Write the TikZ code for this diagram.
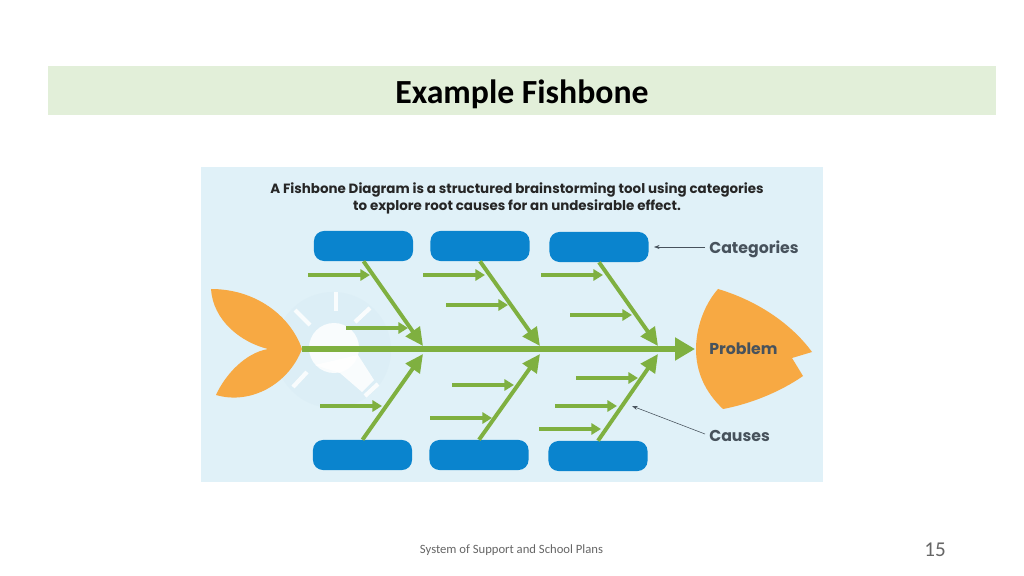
\documentclass[tikz,border=0pt]{standalone}
\usepackage{fontspec}
\setmainfont{Carlito}
\newfontfamily\posterfont{Poppins}
\usetikzlibrary{arrows.meta}
\definecolor{bannergreen}{HTML}{E2EFD9}
\definecolor{posterblue}{HTML}{E0F1F8}
\definecolor{halo}{HTML}{DCEEF6}
\definecolor{boxblue}{HTML}{0A84CE}
\definecolor{bonegreen}{HTML}{7FB040}
\definecolor{fishorange}{HTML}{F7A943}
\definecolor{labelgray}{HTML}{47525C}
\tikzset{
  catbox/.style={fill=boxblue,rounded corners=2.5mm,minimum width=2.475cm,minimum height=0.75cm,inner sep=0pt},
  spine/.style={line width=3.6pt,color=bonegreen,-{Triangle[length=0.5cm,width=0.55cm]}},
  bone/.style={line width=2.8pt,color=bonegreen,-{Triangle[length=0.45cm,width=0.42cm]}},
  cause/.style={line width=2.2pt,color=bonegreen,-{Triangle[length=0.24cm,width=0.28cm]}},
  pointer/.style={thin,color=labelgray,-{Stealth[length=1.4mm,width=1mm]}},
  bulbray/.style={line width=3pt,color=white,opacity=0.85},
  sidelabel/.style={anchor=west,inner sep=0pt,text=labelgray,font=\posterfont\bfseries\fontsize{11.2}{13}\selectfont}
}
\begin{document}
\begin{tikzpicture}[x=0.025cm,y=-0.025cm]
  \useasboundingbox (0,0) rectangle (1024,576);
  \fill[white] (0,0) rectangle (1024,576);
  \fill[bannergreen] (48,66) rectangle (996,115);
  \node (title) at (522,94.5) {\fontsize{24}{28}\selectfont\bfseries Example Fishbone};
  \node[text=black!60] (footer) at (511.5,550) {\fontsize{9}{11}\selectfont System of Support and School Plans};
  \node[text=black!60] (pagenum) at (935,550) {\fontsize{15}{18}\selectfont 15};
  % poster
  \fill[posterblue] (201,167) rectangle (823,482);
  \fill[halo] (333,350) circle (58);
  \fill[white,opacity=0.85] (334,348) circle (25);
  \fill[white,opacity=0.85] (315,365) -- (340,373) -- (362,392) -- (374,380) -- (358,355) -- cycle;
  \draw[bulbray] (336,292) -- (336,311);
  \draw[bulbray] (295,310) -- (310,325);
  \draw[bulbray] (370,308) -- (355,322);
  \draw[bulbray] (307,372) -- (293,387);
  \draw[bulbray] (365,396) -- (378,384);
  \node[align=center,inner sep=0pt,text=black!85,font=\posterfont\bfseries\fontsize{9.55}{12}\selectfont] (headline) at (517,198.5)
    {A Fishbone Diagram is a structured brainstorming tool using categories\\to explore root causes for an undesirable effect.};
  % tail
  \fill[fishorange] (211,289) .. controls (255,289) and (290,315) .. (302,349)
    .. controls (288,385) and (250,405) .. (216,395)
    .. controls (225,375) and (245,353) .. (268,349)
    .. controls (240,342) and (213,320) .. (211,289) -- cycle;
  % head
  \fill[fishorange] (718,289) .. controls (755,300) and (790,322) .. (812,352)
    -- (792,358) -- (803,376)
    .. controls (780,392) and (750,404) .. (723,409)
    .. controls (705,392) and (696,372) .. (696,349)
    .. controls (696,328) and (704,305) .. (718,289) -- cycle;
  \node[sidelabel] (problem) at (709,349) {Problem};
  % category boxes
  \node[catbox] (cata) at (363.5,246) {};
  \node[catbox] (catb) at (480,246) {};
  \node[catbox] (catc) at (599,247) {};
  \node[catbox] (catd) at (362.5,455) {};
  \node[catbox] (cate) at (479,455) {};
  \node[catbox] (catf) at (598,456) {};
  % spine
  \coordinate (tail) at (302,349);
  \coordinate (mouth) at (695,349);
  \draw[spine] (tail) -- (mouth);
  \coordinate (joina) at (423,346);
  \coordinate (joinb) at (540,346);
  \coordinate (joinc) at (658,346);
  \coordinate (joind) at (423,354);
  \coordinate (joine) at (540,354);
  \coordinate (joinf) at (658,354);
  \foreach \cat/\join in {cata/joina,catb/joinb,catc/joinc}
    \draw[bone] (\cat.south) -- (\join);
  \foreach \cat/\join in {catd/joind,cate/joine,catf/joinf}
    \draw[bone] (\cat.north) -- (\join);
  % causes
  \foreach \x/\y [count=\i] in {308/275,346/328,423/275,446/305,541/275,570/315,320/406,452/385,430/418,576/378,555/406,539/429} {
    \coordinate (from\i) at (\x,\y);
    \coordinate (to\i) at (\x+62,\y);
    \draw[cause] (from\i) -- (to\i);
  }
  % labels
  \node[sidelabel] (categories) at (709,249) {Categories};
  \node[sidelabel] (causes) at (709,436) {Causes};
  \coordinate (catpoint) at (654,247);
  \coordinate (causepoint) at (632,406);
  \draw[pointer] (categories.west) ++(-4,-2) coordinate (catstart) -- (catpoint);
  \draw[pointer] (causes.west) ++(-4,-2) coordinate (causestart) -- (causepoint);
\end{tikzpicture}
\end{document}
